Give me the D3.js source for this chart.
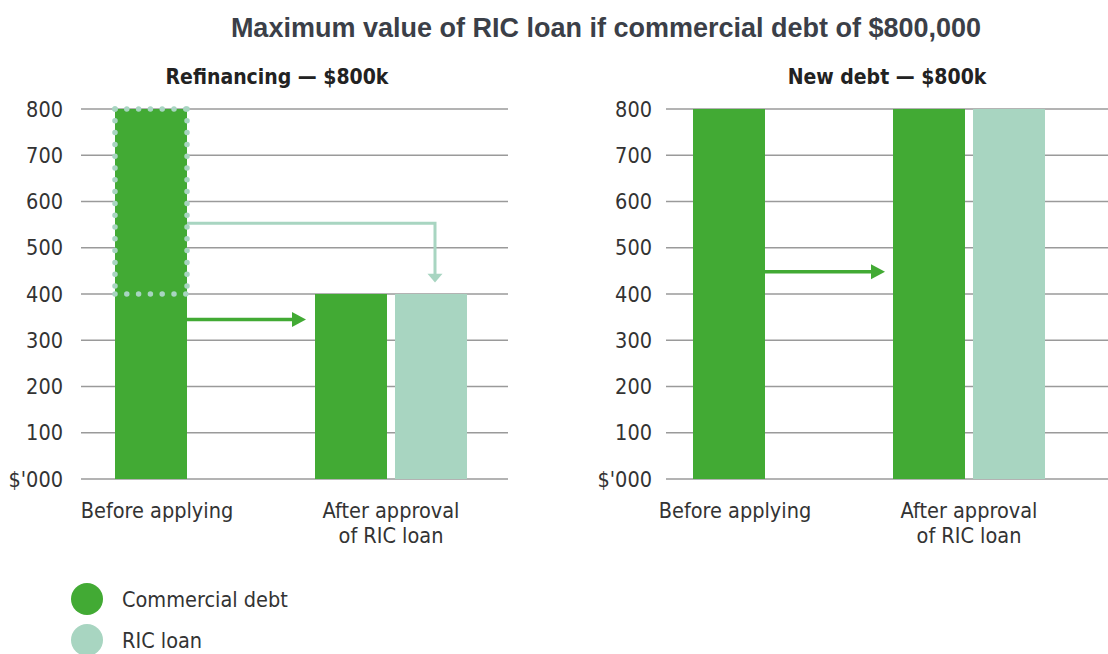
<!DOCTYPE html>
<meta charset="utf-8">
<style>
body { margin: 0; background: #fff; }
text { font-family: 'DejaVu Sans Condensed', 'DejaVu Sans', sans-serif; }
.title { font-family: 'Liberation Sans', Arial, sans-serif; font-weight: bold; fill: #3b3f48; }
</style>
<body>
<script src="https://d3js.org/d3.v7.min.js"></script>
<script>
	var width = 1108, height = 654;

	var title = "Maximum value of RIC loan if commercial debt of $800,000";
	var categories = ["Before applying", "After approval of RIC loan"];
	var catLines = [["Before applying"], ["After approval", "of RIC loan"]];
	var panelTitles = ["Refinancing \u2014 $800k", "New debt \u2014 $800k"];
	var refiCommercial = [800, 400];
	var refiRic = [0, 400];
	var newCommercial = [800, 800];
	var newRic = [0, 800];
	var tickValues = [0, 100, 200, 300, 400, 500, 600, 700, 800];
	var tickLabels = ["$'000", "100", "200", "300", "400", "500", "600", "700", "800"];
	var legendNames = ["Commercial debt", "RIC loan"];

	var green = "#42aa34";
	var lightGreen = "#a8d5c1";
	var gridColour = "#9a9a9a";

	var panels = [
		{ title: panelTitles[0], commercial: refiCommercial, ric: refiRic, gx0: 81, gx1: 508, c0: 151, c1: 391, labelX: 63, titleX: 277 },
		{ title: panelTitles[1], commercial: newCommercial, ric: newRic, gx0: 666, gx1: 1108, c0: 729, c1: 969, labelX: 652, titleX: 887 }
	];

	var barW = 72, barGap = 8;

	var y = d3.scaleLinear().domain([0, 800]).range([479, 109]);

	var svg = d3.select("body").append("svg")
		.attr("width", width)
		.attr("height", height);

	svg.append("text")
		.attr("class", "title")
		.attr("x", 606)
		.attr("y", 37)
		.attr("text-anchor", "middle")
		.style("font-size", "27px")
		.text(title);

	panels.forEach(function(p, pi) {
		var x = d3.scalePoint().domain(categories).range([p.c0, p.c1]);
		var g = svg.append("g");

		// panel title
		g.append("text")
			.attr("x", p.titleX)
			.attr("y", 84)
			.attr("text-anchor", "middle")
			.style("font-size", "21px")
			.style("font-weight", "bold")
			.style("fill", "#222")
			.text(p.title);

		// grid lines
		g.selectAll(".grid")
			.data(tickValues)
			.enter().append("line")
				.attr("x1", p.gx0)
				.attr("x2", p.gx1)
				.attr("y1", function(d) { return y(d); })
				.attr("y2", function(d) { return y(d); })
				.style("stroke", gridColour)
				.style("stroke-width", 1.5);

		// tick labels
		g.selectAll(".tick")
			.data(tickValues)
			.enter().append("text")
				.attr("x", p.labelX)
				.attr("y", function(d) { return y(d) + 7.5; })
				.attr("text-anchor", "end")
				.style("font-size", "21.5px")
				.style("fill", "#333")
				.text(function(d, i) { return tickLabels[i]; });

		// bars
		var bars = [];
		categories.forEach(function(c, i) {
			var hasRic = p.ric[i] > 0;
			var cx = x(c);
			if (hasRic) {
				bars.push({ x: cx - barGap / 2 - barW, v: p.commercial[i], col: green });
				bars.push({ x: cx + barGap / 2, v: p.ric[i], col: lightGreen });
			} else {
				bars.push({ x: cx - barW / 2, v: p.commercial[i], col: green });
			}
		});

		g.selectAll(".bar")
			.data(bars)
			.enter().append("rect")
				.attr("x", function(d) { return d.x; })
				.attr("y", function(d) { return y(d.v); })
				.attr("width", barW)
				.attr("height", function(d) { return y(0) - y(d.v); })
				.attr("fill", function(d) { return d.col; });

		// category labels
		categories.forEach(function(c, i) {
			var lx = x(c) + (i == 0 ? 6 : 0);
			var t = g.append("text")
				.attr("x", lx)
				.attr("y", 518)
				.attr("text-anchor", "middle")
				.style("font-size", "21.5px")
				.style("fill", "#333");
			catLines[i].forEach(function(line, li) {
				t.append("tspan")
					.attr("x", lx)
					.attr("dy", li == 0 ? 0 : 25)
					.text(line);
			});
		});

		var b0 = x(categories[0]) - barW / 2;
		var b1 = b0 + barW;

		if (pi == 0) {
			// dotted outline of the part that moves to the RIC loan
			var dotted = [
				[[b0, y(800)], [b1, y(800)]],
				[[b0, y(400)], [b1, y(400)]],
				[[b0, y(800)], [b0, y(400)]],
				[[b1, y(800)], [b1, y(400)]]
			];
			g.selectAll(".dots")
				.data(dotted)
				.enter().append("path")
					.attr("d", function(d) { return d3.line()(d); })
					.style("fill", "none")
					.style("stroke", lightGreen)
					.style("stroke-width", 5.5)
					.style("stroke-linecap", "round")
					.style("stroke-dasharray", "0 11.8");

			// light arrow to RIC loan
			var ax = x(categories[1]) + barGap / 2 + barW / 2 + 4;
			g.append("path")
				.attr("d", d3.line()([[b1, y(553)], [ax, y(553)], [ax, y(440)]]))
				.style("fill", "none")
				.style("stroke", lightGreen)
				.style("stroke-width", 3);
			g.append("path")
				.attr("d", d3.line()([[ax - 7.5, y(444)], [ax + 7.5, y(444)], [ax, y(425)]]) + "Z")
				.style("fill", lightGreen);

			drawArrow(g, b1, x(categories[1]) - barGap / 2 - barW - 9, y(345));
		} else {
			drawArrow(g, b1, x(categories[1]) - barGap / 2 - barW - 8, y(448));
		}
	});

	function drawArrow(g, x0, x1, yy) {
		g.append("line")
			.attr("x1", x0)
			.attr("x2", x1 - 12)
			.attr("y1", yy)
			.attr("y2", yy)
			.style("stroke", green)
			.style("stroke-width", 3.5);
		g.append("path")
			.attr("d", d3.line()([[x1 - 14, yy - 7.5], [x1, yy], [x1 - 14, yy + 7.5]]) + "Z")
			.style("fill", green);
	}

	// legend
	var legendCols = [green, lightGreen];
	var legend = svg.selectAll(".legend")
		.data(legendNames)
		.enter().append("g")
			.attr("transform", function(d, i) { return "translate(87," + (599 + i * 41) + ")"; });

	legend.append("circle")
		.attr("r", 16)
		.attr("fill", function(d, i) { return legendCols[i]; });

	legend.append("text")
		.attr("x", 35)
		.attr("y", 7.5)
		.style("font-size", "21.5px")
		.style("fill", "#333")
		.text(function(d) { return d; });
</script>
</body>
